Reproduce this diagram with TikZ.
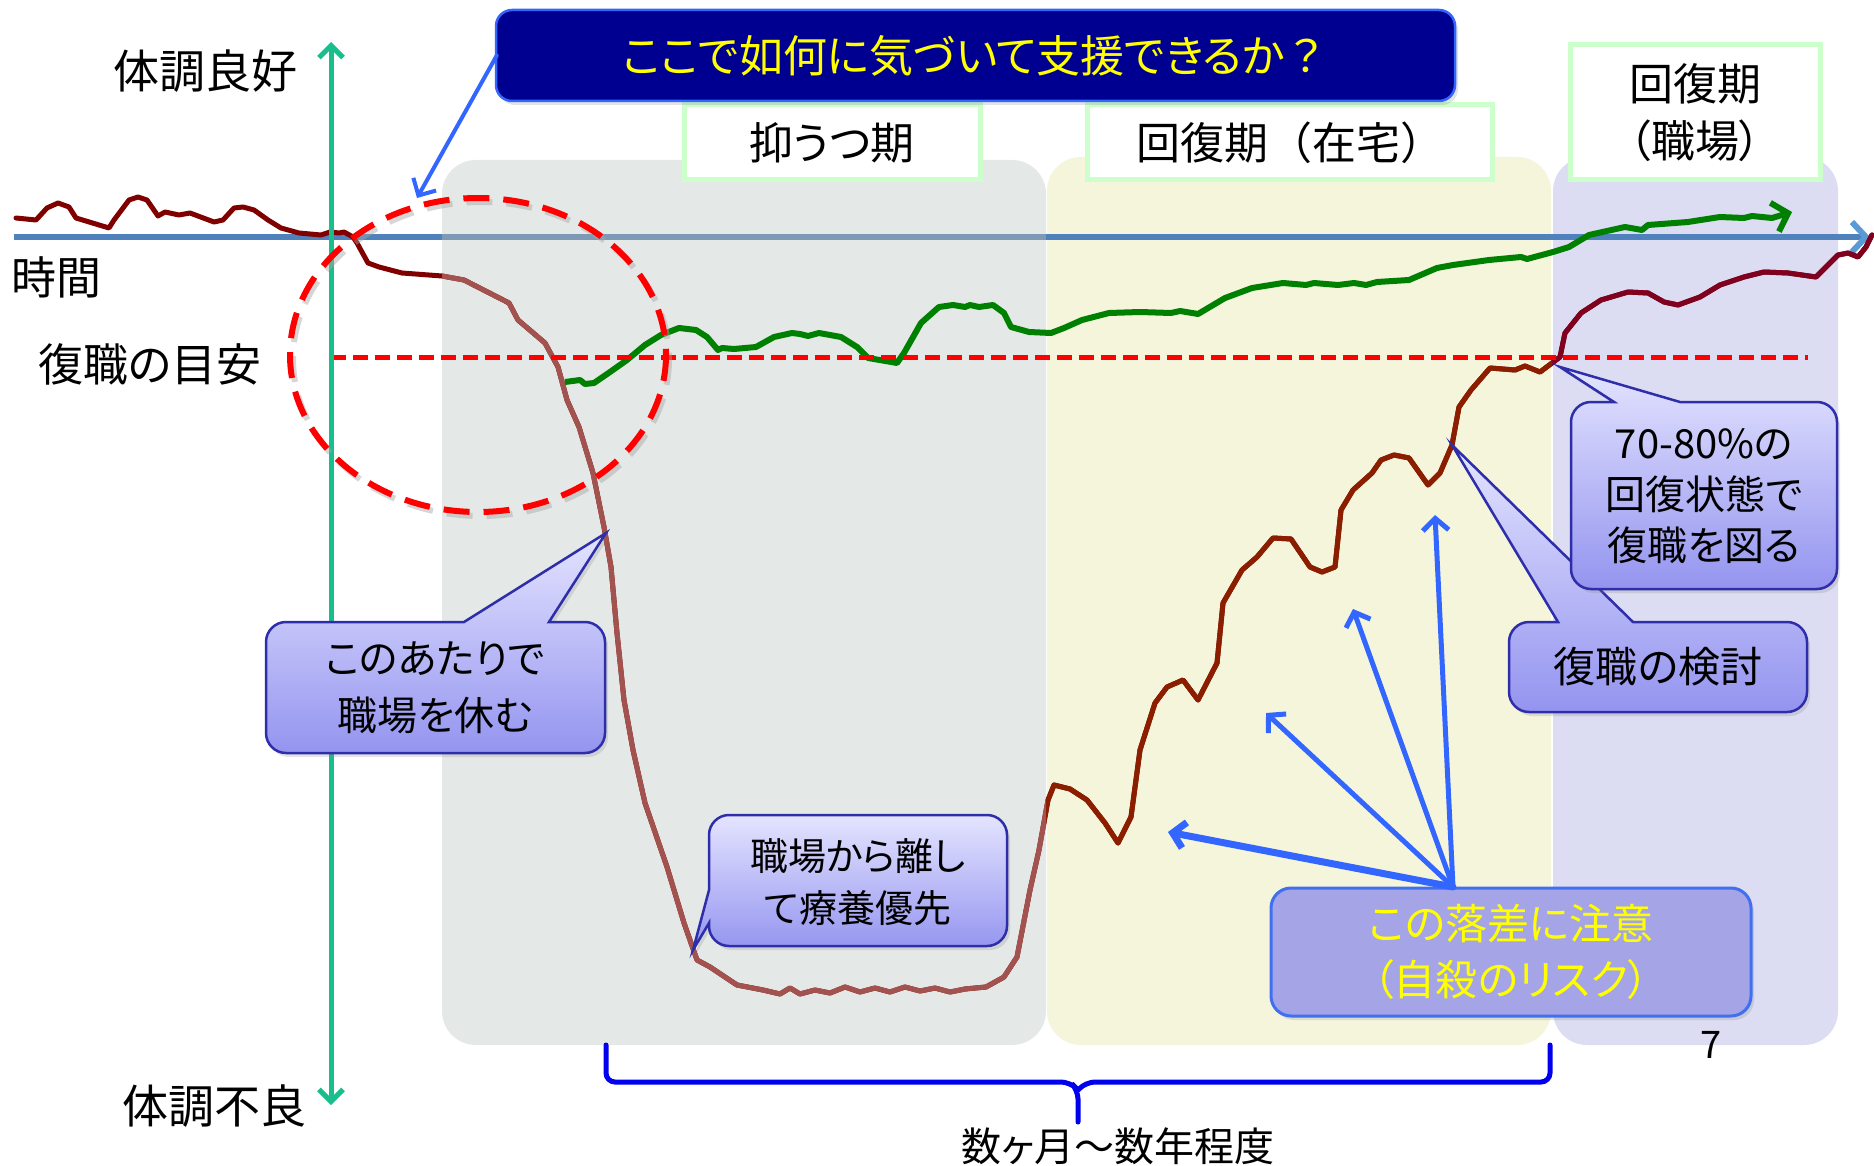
\documentclass[tikz,border=0pt]{standalone}
\usepackage{fontspec}
\setmainfont{Noto Sans CJK JP}[RawFeature=+palt]
\newfontfamily\jpfw{Noto Sans CJK JP}
\usetikzlibrary{arrows.meta,shadows}
\definecolor{cNavy}{HTML}{000090}
\definecolor{cNavyBd}{HTML}{3366FF}
\definecolor{cYTxt}{HTML}{FFFF00}
\definecolor{cPhase}{HTML}{CCFFCC}
\definecolor{cGray}{HTML}{E4E8E6}
\definecolor{cYel}{HTML}{F5F5DC}
\definecolor{cLav}{HTML}{DCDCF2}
\definecolor{cCalTop}{HTML}{E4E4FF}
\definecolor{cCalBot}{HTML}{9494F0}
\definecolor{cCalBd}{HTML}{2E2EAA}
\definecolor{cBig}{HTML}{A4A4E6}
\definecolor{cBigBd}{HTML}{4070F0}
\definecolor{cArrow}{HTML}{3366FF}
\definecolor{cBrace}{HTML}{0000EE}
\definecolor{cGreenAx}{HTML}{18BF8C}
\definecolor{cAxis}{HTML}{4F81BD}
\definecolor{cAxisG}{HTML}{7E99B6}
\definecolor{cAxisTip}{HTML}{5B9BD5}
\definecolor{cRed}{HTML}{800000}
\definecolor{cRedG}{HTML}{A3534F}
\definecolor{cRedY}{HTML}{8C1E00}
\definecolor{cRedL}{HTML}{800020}
\definecolor{cGreen}{HTML}{008000}
\definecolor{cDash}{HTML}{FF0000}
\newcommand\fsz[2]{\fontsize{#1}{#2}\selectfont}
% #1 x1, #2 y1, #3 x2, #4 y2, #5 base-left x, #6 base-right x, #7 tip x, #8 tip y
\newcommand\topcall[8]{%
  \shadedraw[calloutbox] (#1+20,#2) -- (#5,#2) -- (#7,#8) -- (#6,#2) -- (#3-20,#2)
    .. controls (#3-9,#2) and (#3,#2+9) .. (#3,#2+20) -- (#3,#4-20)
    .. controls (#3,#4-9) and (#3-9,#4) .. (#3-20,#4) -- (#1+20,#4)
    .. controls (#1+9,#4) and (#1,#4-9) .. (#1,#4-20) -- (#1,#2+20)
    .. controls (#1,#2+9) and (#1+9,#2) .. (#1+20,#2) -- cycle;}
\begin{document}
\begin{tikzpicture}[x=1pt,y=-1pt,
  lbl/.style={font=\fsz{45}{54}, text=black, inner sep=0pt},
  phasebox/.style={draw=cPhase, line width=5pt, fill=white, inner sep=0pt, align=center, font=\fsz{44}{57}},
  calloutbox/.style={top color=cCalTop, bottom color=cCalBot, draw=cCalBd, line width=2.5pt,
     drop shadow={opacity=0.22,shadow xshift=3pt,shadow yshift=-4pt}},
  caltext/.style={align=center, inner sep=0pt, text=black},
  bluearrow/.style={draw=cArrow, line width=5pt, line cap=round, -{Straight Barb[length=12pt,width=26pt]}},
  redline/.style={line width=5pt, line join=round, line cap=round},
  panel/.style={rounded corners=34pt, draw=none}
]
\useasboundingbox (0,0) rectangle (1874,1166);
\fill[white] (0,0) rectangle (1874,1166);

% background panels
\fill[panel, cGray] (442,160) rectangle (1046,1045);
\fill[panel, cYel] (1047,157) rectangle (1551,1045);
\fill[panel, cLav] (1553,157) rectangle (1838,1045);

% phase labels
\node[phasebox, minimum width=296pt, minimum height=75pt] (ph1) at (832,142.5) {抑うつ期};
\node[phasebox, minimum width=405pt, minimum height=75pt, font=\jpfw\fsz{44}{57}] (ph2) at (1290,142.5) {回復期（在宅）};
\node[phasebox, minimum width=250pt, minimum height=135pt] (ph3) at (1695,112.5) {回復期\\（職場）};

% time axis
\coordinate (tax0) at (14,237);
\coordinate (tax1) at (1870,237);
\draw[line width=6pt, cAxis, -{Straight Barb[length=14pt,width=30pt,color=cAxisTip]}] (tax0) -- (tax1);
\begin{scope}
  \clip (442,200) rectangle (1046,280);
  \draw[line width=6pt, cAxisG] (442,237) -- (1046,237);
\end{scope}

% condition curve (dark red), tinted under panels
\foreach \cx/\cw/\cc in {0/1874/cRed, 442/604/cRedG, 1046/506/cRedY, 1552/322/cRedL}{
\begin{scope}
\clip (\cx,0) rectangle (\cx+\cw,1166);
\draw[redline, draw=\cc] plot coordinates {
(16,218) (36,220) (47,208) (58,203) (69,207) (76,218) (109,228) (114,220) (129,200) (138,197)
(147,200) (158,216) (165,212) (179,215) (190,213) (214,222) (223,220) (234,208) (243,207)
(254,210) (268,220) (281,228) (299,233) (321,235) (330,232) (339,233) (344,232) (353,237)
(357,243) (368,263) (379,267) (402,273) (442,276) (464,280) (509,303) (518,320) (545,343)
(558,367) (567,400) (579,427) (593,473) (604,527) (611,567) (617,633) (624,700) (633,750)
(645,803) (667,867) (684,923) (697,960) (710,967) (737,985) (763,990) (780,994) (790,988)
(800,994) (815,990) (830,993) (845,987) (860,992) (875,988) (890,992) (905,987) (920,991)
(935,988) (950,992) (965,989) (986,987) (1004,977) (1017,957) (1030,890) (1039,850)
(1048,800) (1054,785) (1070,789) (1087,800) (1105,823) (1118,843) (1131,817) (1140,750)
(1155,703) (1167,687) (1183,680) (1198,700) (1217,663) (1223,603) (1242,570) (1257,557)
(1273,538) (1291,539) (1310,567) (1322,572) (1335,567) (1341,510) (1353,490) (1372,473)
(1381,460) (1394,455) (1409,458) (1428,485) (1440,473) (1452,445) (1459,407) (1471,390)
(1490,368) (1515,370) (1525,366) (1540,372) (1552,363) (1560,357) (1565,333) (1581,313)
(1601,300) (1628,292) (1648,293) (1664,302) (1678,305) (1700,297) (1720,285) (1744,277)
(1764,272) (1788,273) (1816,277) (1828,265) (1838,255) (1848,253) (1858,257) (1866,247)
(1872,235)};
\end{scope}}

% green curve
\draw[line width=6pt, cGreen, line join=round, -{Straight Barb[length=14pt,width=30pt]}] plot coordinates {
(565,382) (580,380) (585,384) (594,383) (610,372) (627,360) (645,345) (661,335) (679,328)
(696,330) (707,337) (718,350) (722,348) (734,349) (756,347) (774,337) (792,333) (800,334)
(808,336) (819,333) (841,337) (857,347) (868,358) (897,363) (904,353) (921,323) (939,307)
(953,305) (965,307) (970,305) (979,307) (993,305) (1004,313) (1011,327) (1029,332)
(1051,333) (1064,328) (1082,320) (1109,313) (1140,312) (1171,313) (1180,311) (1198,314)
(1225,298) (1252,288) (1283,283) (1306,285) (1314,283) (1338,285) (1354,283) (1366,285)
(1377,282) (1409,280) (1437,268) (1453,265) (1489,260) (1521,257) (1527,259) (1553,252)
(1569,247) (1589,235) (1625,227) (1642,230) (1648,225) (1688,222) (1720,217) (1744,218)
(1752,216) (1772,218) (1792,212)};

% return-to-work threshold
\coordinate (thr0) at (331,357);
\coordinate (thr1) at (1808,357);
\draw[cDash, line width=5pt, dash pattern=on 15pt off 7pt] (thr0) -- (thr1);

% vertical axis
\coordinate (vax0) at (331,1105);
\coordinate (vax1) at (331,42);
\draw[cGreenAx, line width=5pt, {Straight Barb[length=12pt,width=24pt]}-{Straight Barb[length=12pt,width=24pt]}] (vax0) -- (vax1);

% dashed ellipse
\draw[black!35, opacity=0.45, line width=6pt, dash pattern=on 26pt off 14pt] (481,359) ellipse [x radius=188, y radius=157];
\draw[cDash, line width=6pt, dash pattern=on 26pt off 14pt] (478,355) ellipse [x radius=188, y radius=157];

% callouts
\topcall{266}{622}{605}{753}{464}{549}{606}{533}
\node[caltext, font=\fsz{40}{57}] (c1t) at (435,688) {このあたりで\\職場を休む};

\shadedraw[calloutbox] (709,890) -- (693,950) -- (709,923) -- (709,926)
  .. controls (709,937) and (718,946) .. (729,946) -- (987,946)
  .. controls (998,946) and (1007,937) .. (1007,926) -- (1007,835)
  .. controls (1007,824) and (998,815) .. (987,815) -- (729,815)
  .. controls (718,815) and (709,824) .. (709,835) -- cycle;
\node[caltext, font=\fsz{38}{52}] (c2t) at (858,882) {職場から離し\\て療養優先};

\topcall{1509}{622}{1807}{712}{1558}{1633}{1452}{445}
\node[caltext, font=\fsz{42}{52}] (c4t) at (1658,667) {復職の検討};

\topcall{1571}{402}{1837}{589}{1614}{1680}{1560}{367}
\node[caltext, font=\fsz{40}{51}] (c3t) at (1704,496) {70-80\%の\\回復状態で\\復職を図る};

% risk box and arrows
\node[draw=cBigBd, fill=cBig, line width=3pt, rounded corners=20pt, minimum width=480pt, minimum height=128pt,
      inner sep=0pt, align=center, text=cYTxt, font=\fsz{42}{56},
      drop shadow={opacity=0.22,shadow xshift=3pt,shadow yshift=-4pt}] (risk) at (1511,952) {この落差に注意\\（自殺のリスク）};
\coordinate (src) at (1453,887);
\coordinate (t1) at (1168,832);
\coordinate (t2) at (1266,713);
\coordinate (t3) at (1353,609);
\coordinate (t4) at (1435,515);
\draw[bluearrow, line width=7pt] (src) -- (t1);
\draw[bluearrow] (src) -- (t2);
\draw[bluearrow] (src) -- (t3);
\draw[bluearrow] (src) -- (t4);

% title box
\node[draw=cNavyBd, fill=cNavy, line width=2.5pt, rounded corners=16pt, minimum width=959pt, minimum height=91pt,
      inner sep=0pt, text=cYTxt, font=\fsz{44}{50},
      drop shadow={opacity=0.22,shadow xshift=3pt,shadow yshift=-4pt}] (title) at (975.5,55.5) {ここで如何に気づいて支援できるか{\jpfw ？}};
\coordinate (tp) at (417,198);
\draw[draw=cArrow, line width=4pt, line cap=round, -{Straight Barb[length=13pt,width=26pt]}] ([xshift=2pt]title.west) -- (tp);

% axis labels
\node[lbl, font=\fsz{46}{54}] (good) at (205,71) {体調良好};
\node[lbl] (time) at (57,277) {時間};
\node[lbl] (ret) at (150,364) {復職の目安};
\node[lbl, font=\fsz{46}{54}] (bad) at (214,1106) {体調不良};

% brace
\coordinate (bl) at (606,1045);
\coordinate (br) at (1550,1045);
\coordinate (bt) at (1078,1122);
\draw[cBrace, line width=5pt, rounded corners=9pt, line cap=round] (bl) -- (606,1082) -- (1070,1082) -- (1078,1090) -- (bt);
\draw[cBrace, line width=5pt, rounded corners=9pt, line cap=round] (br) -- (1550,1082) -- (1086,1082) -- (1078,1090);
\node[lbl, font=\fsz{40}{48}] (dur) at (1118,1146) {数ヶ月～数年程度};
\node[lbl, font=\fsz{38}{44}] (pg) at (1711,1045) {7};
\end{tikzpicture}
\end{document}
